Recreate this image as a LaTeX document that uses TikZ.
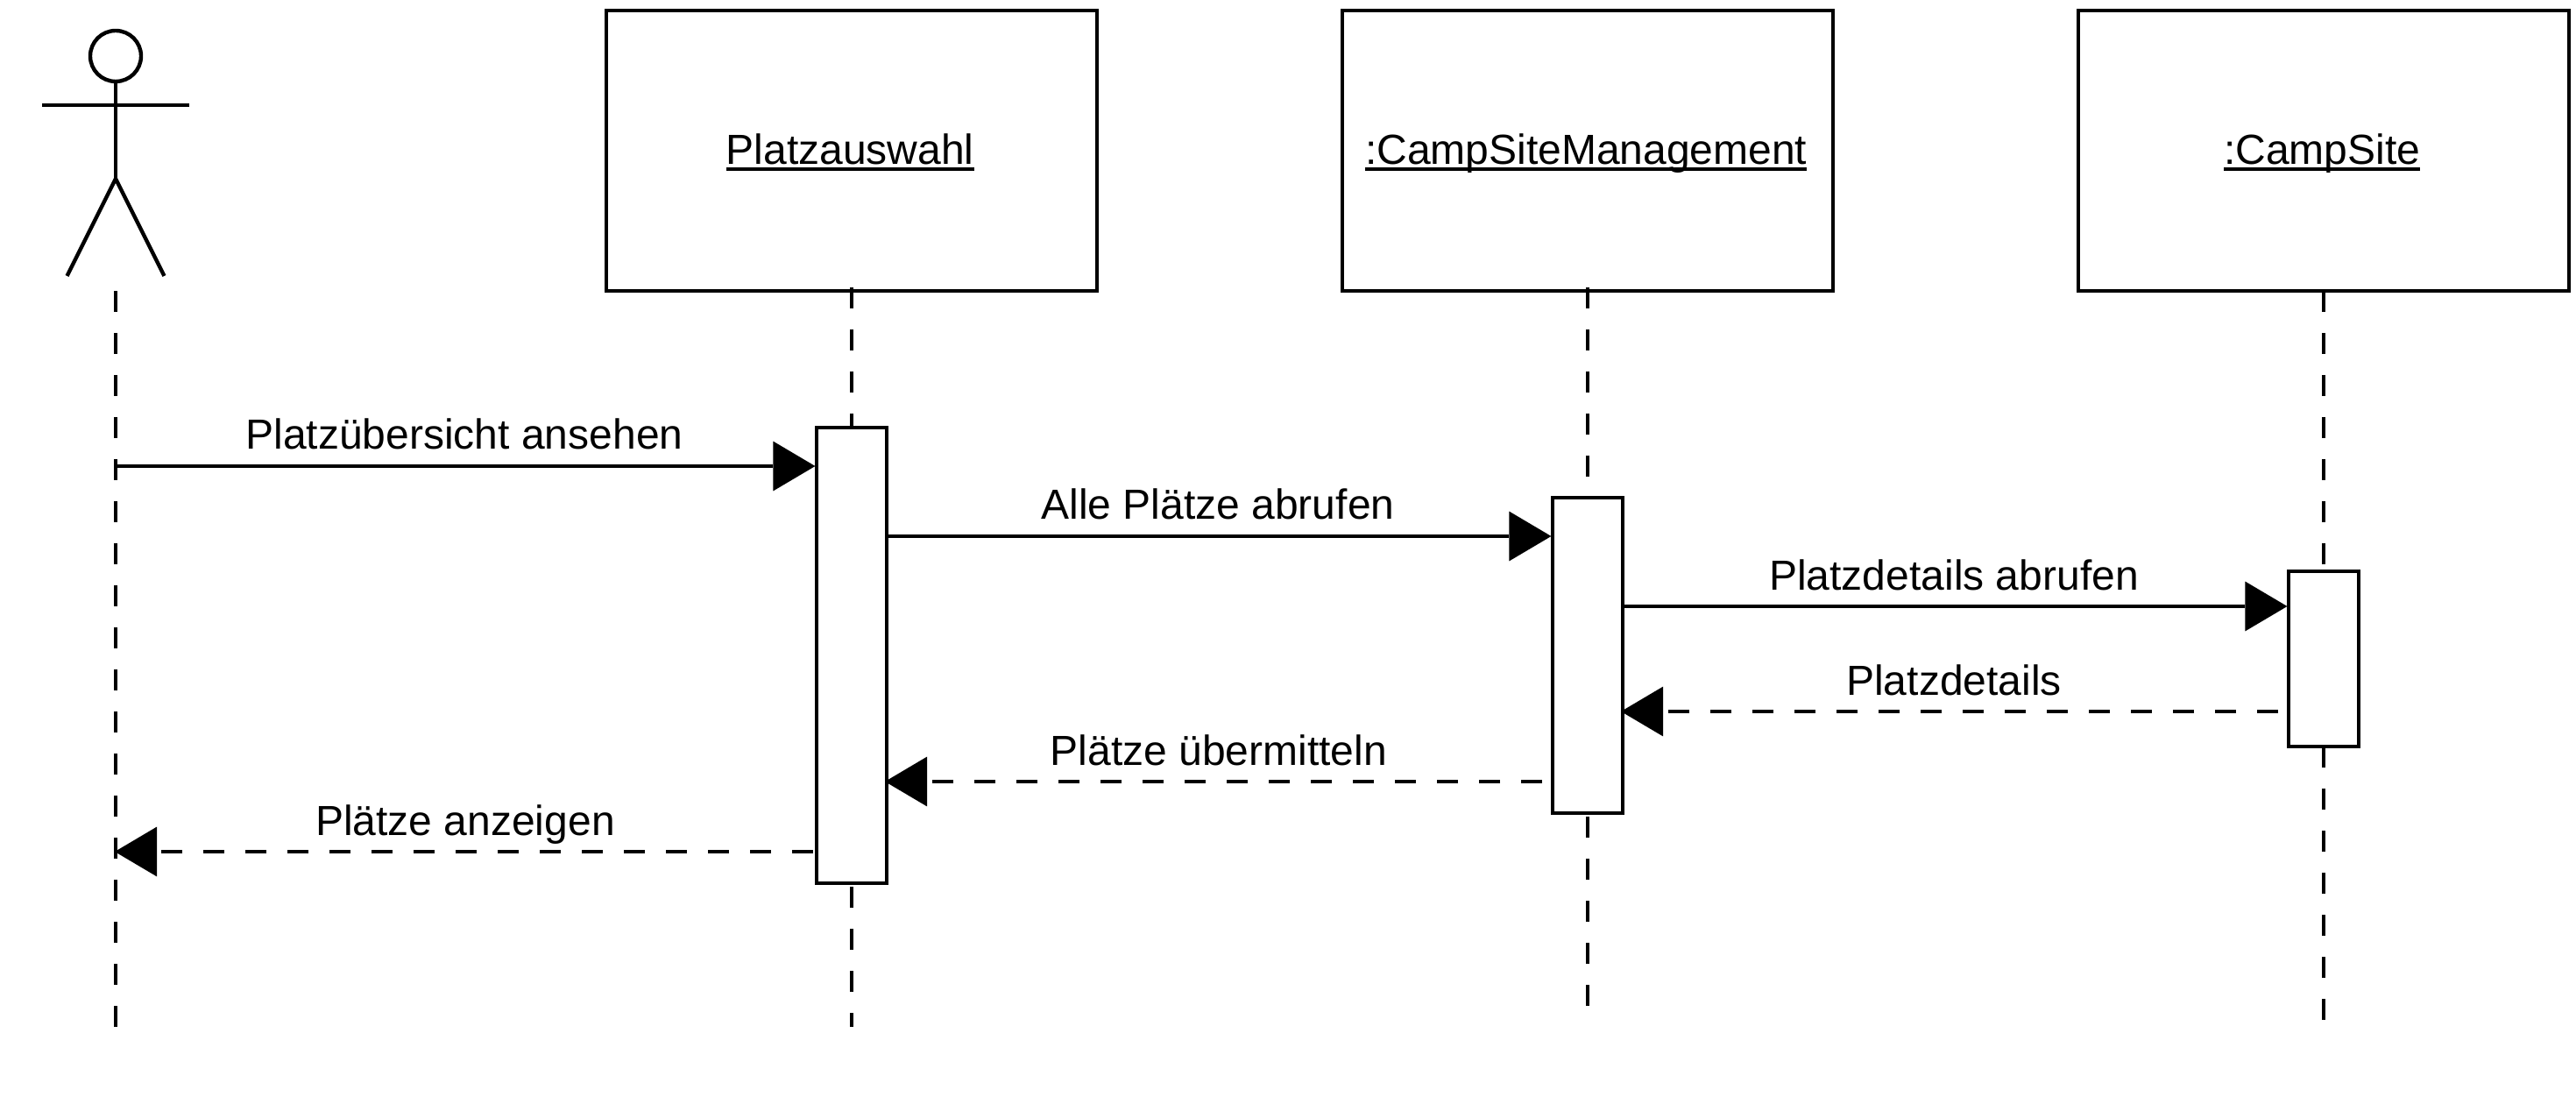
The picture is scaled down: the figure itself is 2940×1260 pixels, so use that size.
\documentclass[tikz,border=0pt]{standalone}
\usepackage{fontspec}
\setmainfont{Liberation Sans}
\usetikzlibrary{arrows.meta}
\newbox\ulinebox
\newcommand{\ultext}[1]{\setbox\ulinebox\hbox{#1}\hbox{\kern-0.9pt\rlap{\vrule width\wd\ulinebox height -0.75pt depth 1.75pt}\box\ulinebox}}
\tikzset{
  every node/.style={font=\fontsize{12}{14}\selectfont},
  objbox/.style={draw=black,fill=white,line width=1.1pt,rectangle,inner sep=0pt,outer sep=0pt,
    minimum width=140pt,minimum height=80pt,text height=8pt,text depth=0pt},
  activation/.style={draw=black,fill=white,line width=1.1pt,rectangle,inner sep=0pt,outer sep=0pt,minimum width=20pt},
  msglabel/.style={anchor=base,inner sep=0pt,outer sep=0pt},
  figure/.style={draw=black,line width=1.1pt},
  lifeline/.style={draw=black,line width=1pt,dash pattern=on 6pt off 6pt},
  call/.style={draw=black,line width=1.05pt,shorten >=0.4pt,
    -{Triangle[length=12pt,width=14.2pt,line width=0pt]}},
  reply/.style={draw=black,line width=1.05pt,dash pattern=on 6pt off 6pt,shorten >=-0.5pt,
    -{Triangle[length=12pt,width=14.2pt,line width=0pt]}}
}
\begin{document}
\begin{tikzpicture}[x=0.25pt,y=-0.25pt]
\useasboundingbox (0,0) rectangle (2940,1260);
% free ends
\coordinate (actorTop) at (132,332);
\coordinate (actorEnd) at (132,1172);
\coordinate (endPa) at (972,1172);
\coordinate (endCm) at (1812,1148);
\coordinate (endCs) at (2652,1164);
\coordinate (hip) at (132,204);
\coordinate (armL) at (48,120);
\coordinate (armR) at (216,120);
\coordinate (legL) at (76.5,315);
\coordinate (legR) at (187.5,315);
\coordinate (m1) at (0,532);
\coordinate (m2) at (0,612);
\coordinate (m3) at (0,692);
\coordinate (m4) at (0,812);
\coordinate (m5) at (0,892);
\coordinate (m6) at (0,972);
% lifelines (behind)
\node[objbox] (pa) at (972,172) {\ultext{Platzauswahl}};
\node[objbox] (cm) at (1812,172) {\ultext{:CampSiteManagement}};
\node[objbox] (cs) at (2652,172) {\ultext{:CampSite}};
\node[activation,minimum height=130pt] (a1) at (972,748) {};
\node[activation,minimum height=90pt] (a2) at (1812,748) {};
\node[activation,minimum height=50pt] (a3) at (2652,752) {};
\draw[lifeline] (actorTop) -- (actorEnd);
\draw[lifeline,shorten <=-1pt] (pa.south) -- (a1.north);
\draw[lifeline,shorten <=1pt] (a1.south) -- (endPa);
\draw[lifeline,shorten <=-1pt] (cm.south) -- (a2.north);
\draw[lifeline,shorten <=1pt] (a2.south) -- (endCm);
\draw[lifeline] (cs.south) -- (a3.north);
\draw[lifeline] (a3.south) -- (endCs);
% actor
\node[circle,draw=black,fill=white,line width=1.1pt,minimum size=14.5pt,inner sep=0pt,outer sep=0pt] (head) at (132,64) {};
\draw[figure] (head.south) -- (hip);
\draw[figure] (armL) -- (armR);
\draw[figure] (legL) -- (hip) -- (legR);
% messages
\draw[call] (actorTop |- m1) -- (a1.west |- m1);
\node[msglabel] (l1) at (530,513) {Platzübersicht ansehen};
\draw[call] (a1.east |- m2) -- (a2.west |- m2);
\node[msglabel] (l2) at (1390,593) {Alle Plätze abrufen};
\draw[call] (a2.east |- m3) -- (a3.west |- m3);
\node[msglabel] (l3) at (2230,673) {Platzdetails abrufen};
\draw[reply,shorten <=3pt] (a3.west |- m4) -- (a2.east |- m4);
\node[msglabel] (l4) at (2230,793) {Platzdetails};
\draw[reply,shorten <=3pt] (a2.west |- m5) -- (a1.east |- m5);
\node[msglabel] (l5) at (1391,873) {Plätze übermitteln};
\draw[reply,shorten <=1pt,shorten >=-0.25pt] (a1.west |- m6) -- (actorEnd |- m6);
\node[msglabel] (l6) at (531,953) {Plätze anzeigen};
\end{tikzpicture}
\end{document}
